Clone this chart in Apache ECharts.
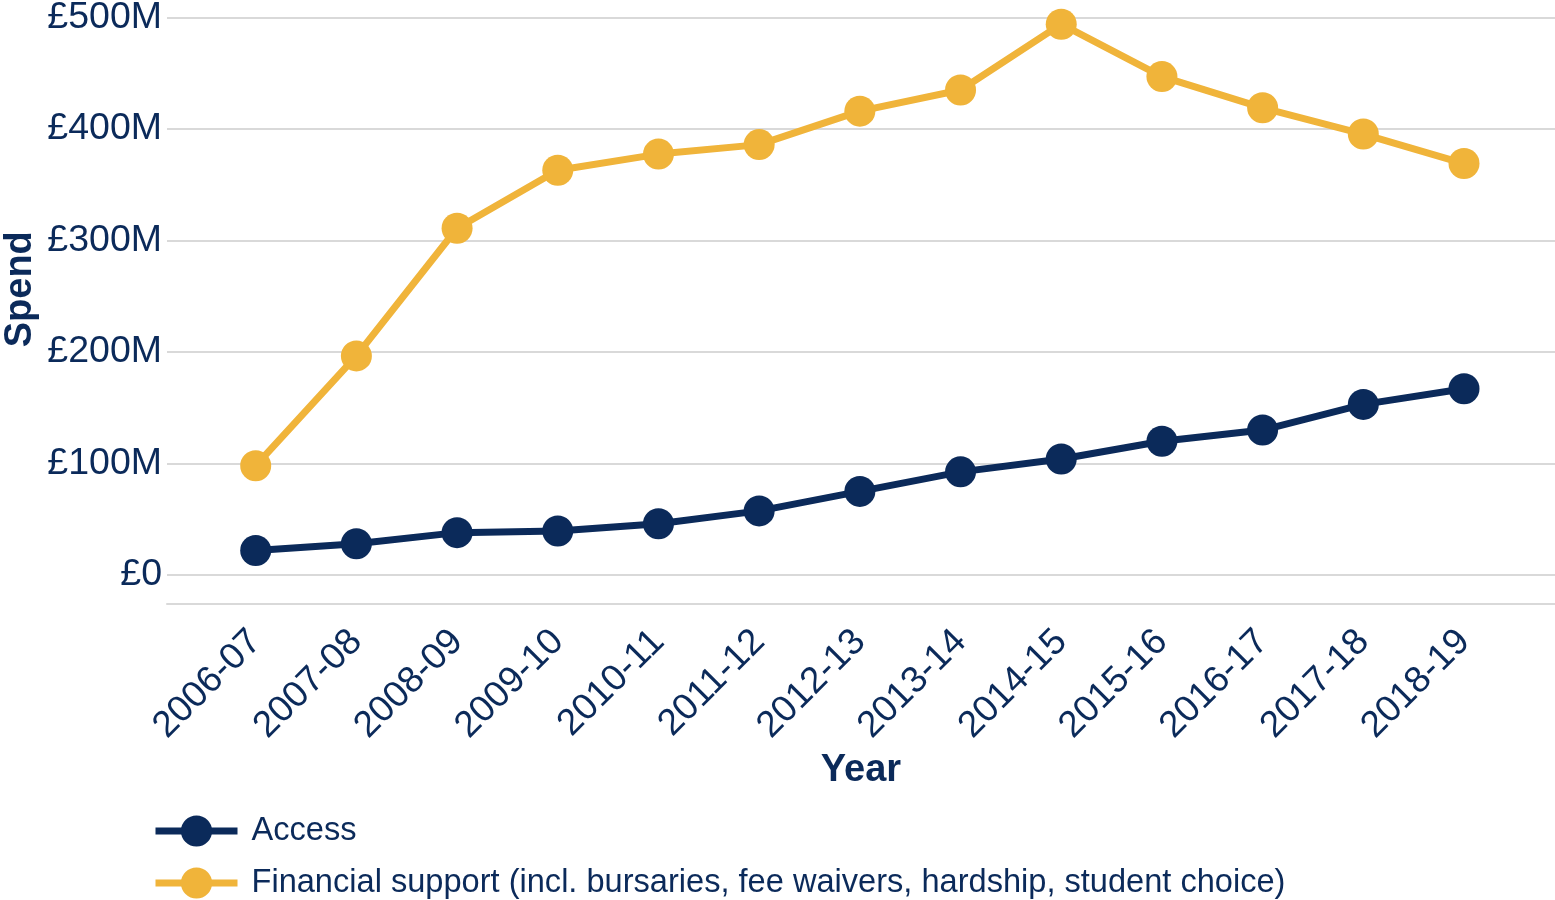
<!DOCTYPE html>
<html>
<head>
<meta charset="utf-8">
<script src="https://cdn.jsdelivr.net/npm/echarts@6/dist/echarts.min.js"></script>
<style>
html,body{margin:0;padding:0;background:#fff;}
#chart{width:1555px;height:900px;}
</style>
</head>
<body>
<div id="chart"></div>
<script>
const years = ['2006-07','2007-08','2008-09','2009-10','2010-11','2011-12','2012-13','2013-14','2014-15','2015-16','2016-17','2017-18','2018-19'];
const accessSpend = [22, 28, 38, 39.5, 46, 57.5, 75, 92.5, 104, 120, 130, 153, 167];
const financialSpend = [98, 196.5, 311, 363, 377.5, 386, 416, 435, 494, 447, 419, 395.5, 369];
const yTicks = [0, 100, 200, 300, 400, 500];
const seriesNames = ['Access', 'Financial support (incl. bursaries, fee waivers, hardship, student choice)'];

const NAVY = '#0b2a5a';
const YELLOW = '#f0b43a';
const GRID = '#d9d9d9';
const FONT = '"Liberation Sans", Arial, sans-serif';

const chart = echarts.init(document.getElementById('chart'));
const gridTop = 17.5, gridBottom = 900 - 575;
const legendBase = {
  orient: 'vertical', left: 152, padding: 0,
  itemWidth: 82, itemHeight: 39,
  lineStyle: { width: 7 },
  textStyle: { fontFamily: FONT, fontSize: 32.6, color: NAVY, padding: [0, 0, 0, 9] }
};
chart.setOption({
  animation: false,
  backgroundColor: '#ffffff',
  textStyle: { fontFamily: FONT, color: NAVY },
  grid: [
    { left: 167, right: 0, top: gridTop, bottom: gridBottom, outerBoundsMode: 'none', containLabel: false },
    { left: 255.7, right: 91, top: gridTop, bottom: gridBottom, outerBoundsMode: 'none', containLabel: false }
  ],
  xAxis: [
    {
      gridIndex: 0, type: 'value', min: 0, max: 1, offset: 28.5,
      axisLine: { show: true, onZero: false, lineStyle: { color: GRID, width: 2 } },
      axisTick: { show: false }, axisLabel: { show: false }, splitLine: { show: false },
      name: 'Year', nameLocation: 'middle', nameGap: 148, nameMoveOverlap: false,
      nameTextStyle: { fontFamily: FONT, fontSize: 38, fontWeight: 'bold', color: NAVY }
    },
    {
      gridIndex: 1, type: 'category', data: years, boundaryGap: false,
      axisLine: { show: false }, axisTick: { show: false }, splitLine: { show: false },
      axisLabel: { show: true, interval: 0, rotate: 45, margin: 61, fontSize: 37, fontFamily: FONT, color: NAVY }
    }
  ],
  yAxis: [
    {
      gridIndex: 0, type: 'value', min: yTicks[0], max: yTicks[yTicks.length - 1], interval: 100,
      axisLine: { show: false }, axisTick: { show: false },
      splitLine: { show: true, lineStyle: { color: GRID, width: 2 } },
      axisLabel: {
        margin: 5, fontSize: 37.5, fontFamily: FONT, color: NAVY,
        formatter: v => v === 0 ? '£0' : '£' + v + 'M'
      },
      name: 'Spend', nameLocation: 'middle', nameRotate: 90, nameGap: 127, nameMoveOverlap: false,
      nameTextStyle: { fontFamily: FONT, fontSize: 38, fontWeight: 'bold', color: NAVY, padding: [0, 0, 0, 14] }
    },
    {
      gridIndex: 1, type: 'value', min: 0, max: 500, interval: 100, show: false,
      splitLine: { show: false }
    }
  ],
  legend: [
    Object.assign({}, legendBase, { top: 814.5, data: [seriesNames[0]] }),
    Object.assign({}, legendBase, { top: 866.5, data: [seriesNames[1]] })
  ],
  series: [
    {
      name: seriesNames[0], type: 'line', xAxisIndex: 1, yAxisIndex: 1, data: accessSpend,
      symbol: 'circle', symbolSize: 31, showSymbol: true,
      lineStyle: { color: NAVY, width: 7 }, itemStyle: { color: NAVY }, z: 3
    },
    {
      name: seriesNames[1], type: 'line', xAxisIndex: 1, yAxisIndex: 1, data: financialSpend,
      symbol: 'circle', symbolSize: 31, showSymbol: true,
      lineStyle: { color: YELLOW, width: 7 }, itemStyle: { color: YELLOW }, z: 3
    }
  ]
});
</script>
</body>
</html>
